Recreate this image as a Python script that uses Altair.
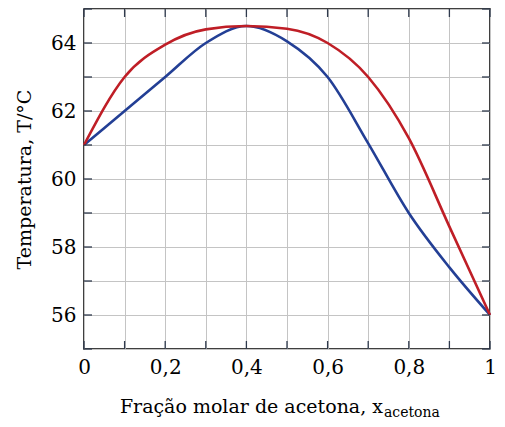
import altair as alt
import pandas as pd

x_vals = [0.0, 0.1, 0.2, 0.3, 0.4, 0.5, 0.6, 0.7, 0.8, 0.9, 1.0]
t_liquid = [61.0, 62.0, 63.0, 64.0, 64.5, 64.05, 63.0, 61.05, 59.0, 57.4, 56.0]
t_vapor = [61.0, 63.0, 63.95, 64.4, 64.5, 64.42, 64.0, 63.0, 61.2, 58.6, 56.0]
x_ticks = [0.0, 0.1, 0.2, 0.3, 0.4, 0.5, 0.6, 0.7, 0.8, 0.9, 1.0]
y_ticks = [55, 56, 57, 58, 59, 60, 61, 62, 63, 64, 65]

W, H = 406, 340
FONT = "DejaVu Serif"
TICKCOL = "#2f3a4d"

df = pd.DataFrame({
    "x": x_vals * 2,
    "T": t_liquid + t_vapor,
    "curve": ["liquid"] * len(x_vals) + ["vapor"] * len(x_vals),
})

xscale = alt.Scale(domain=[0, 1], nice=False)
yscale = alt.Scale(domain=[55, 65], nice=False, zero=False)

xaxis = alt.Axis(
    values=x_ticks, grid=True, ticks=False, domain=False, format=".1~f",
    labelExpr="round(datum.value*10) % 2 == 0 ? replace(datum.label, '.', ',') : ''",
    labelFont=FONT, labelFontSize=20, labelColor="black", labelPadding=8,
    labelFlush=False, labelOverlap=False, title=None,
)
yaxis = alt.Axis(
    values=y_ticks, grid=True, ticks=False, domain=False, format="d",
    labelExpr="round(datum.value) % 2 == 0 ? datum.label : ''",
    labelFont=FONT, labelFontSize=20, labelColor="black", labelPadding=8,
    labelFlush=False, labelOverlap=False,
    title="Temperatura, T/°C", titleFont=FONT, titleFontSize=19,
    titleFontWeight="normal", titleColor="black", titlePadding=16,
)

lines = alt.Chart(df).mark_line(strokeWidth=2.6, interpolate="monotone").encode(
    x=alt.X("x:Q", scale=xscale, axis=xaxis),
    y=alt.Y("T:Q", scale=yscale, axis=yaxis),
    color=alt.Color("curve:N", scale=alt.Scale(domain=["liquid", "vapor"], range=["#233f95", "#bf1e26"]), legend=None),
    order=alt.Order("x:Q"),
)

dx = pd.DataFrame({"x": x_ticks})
dy = pd.DataFrame({"T": y_ticks})
tk = dict(color=TICKCOL, strokeWidth=1.3)
bottom_ticks = alt.Chart(dx).mark_rule(**tk).encode(x=alt.X("x:Q", scale=xscale, axis=xaxis), y=alt.value(H), y2=alt.value(H - 8))
top_ticks = alt.Chart(dx).mark_rule(**tk).encode(x=alt.X("x:Q", scale=xscale, axis=xaxis), y=alt.value(0), y2=alt.value(8))
left_ticks = alt.Chart(dy).mark_rule(**tk).encode(y=alt.Y("T:Q", scale=yscale, axis=yaxis), x=alt.value(0), x2=alt.value(8))
right_ticks = alt.Chart(dy).mark_rule(**tk).encode(y=alt.Y("T:Q", scale=yscale, axis=yaxis), x=alt.value(W), x2=alt.value(W - 8))

tdf = pd.DataFrame({"t": ["Fração molar de acetona, x"], "s": ["acetona"]})
title_main = alt.Chart(tdf).mark_text(
    font=FONT, fontSize=19, align="right", baseline="alphabetic", color="black"
).encode(text="t:N", x=alt.value(299), y=alt.value(404))
title_sub = alt.Chart(tdf).mark_text(
    font=FONT, fontSize=14, align="left", baseline="alphabetic", color="black"
).encode(text="s:N", x=alt.value(300), y=alt.value(408))

chart = alt.layer(
    lines, bottom_ticks, top_ticks, left_ticks, right_ticks, title_main, title_sub
).properties(
    width=W, height=H,
    autosize=alt.AutoSizeParams(type="none"),
    padding={"left": 76, "top": 1, "right": 7, "bottom": 70},
).configure_view(
    stroke="black", strokeWidth=1.5
).configure_axis(
    gridColor="#c4c4c4", gridWidth=1, gridOpacity=1
)

chart.save("out.html", embed_options={"renderer": "svg", "actions": False})
